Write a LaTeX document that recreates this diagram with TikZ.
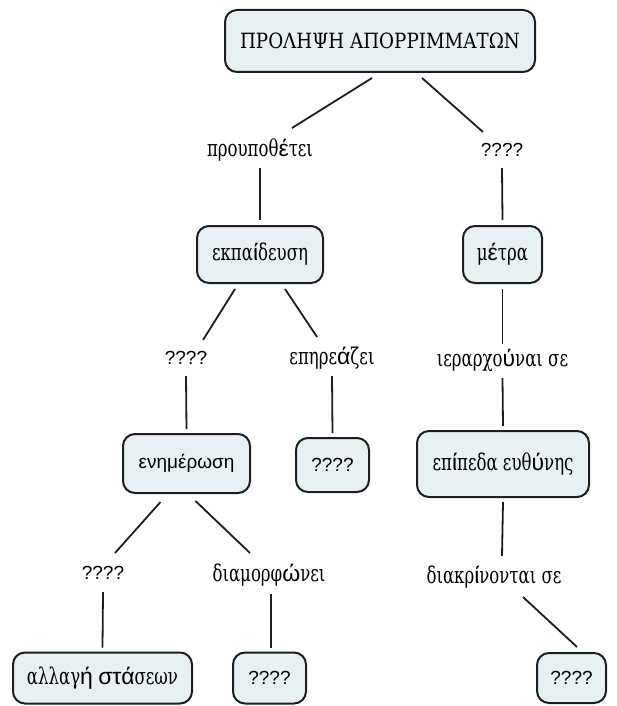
\documentclass[tikz,border=0pt]{standalone}
\usepackage{fontspec}
\newfontfamily\serfont[FakeStretch=0.72]{DejaVu Serif}
\newfontfamily\capfont[FakeStretch=0.87]{DejaVu Serif}
\newfontfamily\accfont{Liberation Sans}
\newcommand{\ac}[1]{{\accfont #1}}
\definecolor{boxfill}{RGB}{231,240,243}
\definecolor{inkline}{RGB}{30,30,30}

\begin{document}
\begin{tikzpicture}[x=1pt, y=-1pt,
    concept/.style={draw=inkline, line width=2pt, rounded corners=12pt, fill=boxfill, inner sep=0pt, font=\serfont\fontsize{23}{27}\selectfont},
    linkword/.style={inner sep=0pt, font=\serfont\fontsize{23}{27}\selectfont},
    qtext/.style={font=\accfont\fontsize{19}{23}\selectfont},
    conn/.style={draw=inkline, line width=1.8pt}]
        \useasboundingbox (0, 0) rectangle (617, 706);
        \node[concept, font=\capfont\fontsize{21}{25}\selectfont, minimum width=310pt, minimum height=62pt] (top) at (380, 41) {ΠΡΟΛΗΨΗ ΑΠΟΡΡΙΜΜΑΤΩΝ};
        \node[linkword] (l1) at (260, 150) {προυποθ\ac{έ}τει};
        \node[linkword, qtext] (l2) at (502, 150) {????};
        \node[concept, minimum width=126pt, minimum height=57pt] (ekp) at (260, 254.5) {εκπα\ac{ί}δευση};
        \node[concept, minimum width=79pt, minimum height=57pt] (metra) at (502.5, 254.5) {μ\ac{έ}τρα};
        \node[linkword, qtext] (l3) at (186, 358) {????};
        \node[linkword] (l4) at (332, 358) {επηρε\ac{ά}ζει};
        \node[linkword] (l5) at (502.5, 360) {ιεραρχο\ac{ύ}ναι σε};
        \node[concept, qtext, minimum width=127pt, minimum height=59pt] (enim) at (186.5, 463.5) {ενημέρωση};
        \node[concept, qtext, minimum width=73pt, minimum height=54pt] (qmid) at (332.5, 465) {????};
        \node[concept, minimum width=172pt, minimum height=66pt] (epip) at (503, 464) {επ\ac{ί}πεδα ευθ\ac{ύ}νης};
        \node[linkword, qtext] (l6) at (103, 573) {????};
        \node[linkword] (l7) at (269, 575) {διαμορφ\ac{ώ}νει};
        \node[linkword] (l8) at (494, 577) {διακρ\ac{ί}νονται σε};
        \node[concept, minimum width=179pt, minimum height=51pt] (allagi) at (102.5, 678) {αλλαγ\ac{ή} \ac{στά}σεων};
        \node[concept, qtext, minimum width=73pt, minimum height=51pt] (qbot) at (269.5, 678) {????};
        \node[concept, qtext, minimum width=69pt, minimum height=50pt] (qright) at (571.5, 678) {????};
        % connectors
        \draw[conn] ([shift={(-8,5)}]top.south) -- ([shift={(32,-22)}]l1.center);
        \draw[conn] ([shift={(42,5)}]top.south) -- ([shift={(-19,-18)}]l2.center);
        \draw[conn] ([shift={(0,18)}]l1.center) -- ([shift={(0,-5)}]ekp.north);
        \draw[conn] ([shift={(0,18)}]l2.center) -- ([shift={(0,-5)}]metra.north);
        \draw[conn] ([shift={(-25,5)}]ekp.south) -- ([shift={(17,-18)}]l3.center);
        \draw[conn] ([shift={(25,5)}]ekp.south) -- ([shift={(-15,-21)}]l4.center);
        \draw[conn] ([shift={(0,5)}]metra.south) -- ([shift={(0,-16)}]l5.center);
        \draw[conn] ([shift={(0,18)}]l3.center) -- ([shift={(0,-4)}]enim.north);
        \draw[conn] ([shift={(0,18)}]l4.center) -- ([shift={(0,-4)}]qmid.north);
        \draw[conn] ([shift={(0,18)}]l5.center) -- ([shift={(0,-4)}]epip.north);
        \draw[conn] ([shift={(-26,8)}]enim.south) -- ([shift={(12,-20)}]l6.center);
        \draw[conn] ([shift={(9,7)}]enim.south) -- ([shift={(-19,-22)}]l7.center);
        \draw[conn] ([shift={(0,4)}]epip.south) -- ([shift={(8,-21)}]l8.center);
        \draw[conn] ([shift={(0,19)}]l6.center) -- ([shift={(0,-4)}]allagi.north);
        \draw[conn] ([shift={(2,19)}]l7.center) -- ([shift={(1.5,-4)}]qbot.north);
        \draw[conn] ([shift={(29,20)}]l8.center) -- ([shift={(5.5,-5)}]qright.north);
    \end{tikzpicture}
\end{document}
